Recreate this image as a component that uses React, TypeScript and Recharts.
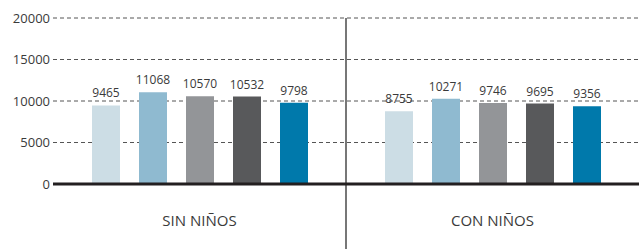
import { BarChart, Bar, XAxis, YAxis, CartesianGrid, LabelList, ReferenceLine } from "recharts";

const CHART_W = 639;
const CHART_H = 249;

const categories = ["SIN NIÑOS", "CON NIÑOS"];
const serie1 = [9465, 8755];
const serie2 = [11068, 10271];
const serie3 = [10570, 9746];
const serie4 = [10532, 9695];
const serie5 = [9798, 9356];
const yTicks = [0, 5000, 10000, 15000, 20000];

const seriesKeys = ["s1", "s2", "s3", "s4", "s5"];
const colors = ["#ccdde5", "#8fbad0", "#939598", "#58595b", "#0079ab"];

const data = categories.map((name, i) => ({
  name,
  s1: serie1[i],
  s2: serie2[i],
  s3: serie3[i],
  s4: serie4[i],
  s5: serie5[i],
}));

// separator between the two groups, from the top of the plot down to the bottom of the picture
const Divider = (props: any) => (
  <line
    x1={props.x1}
    y1={Math.min(props.y1, props.y2)}
    x2={props.x2}
    y2={CHART_H}
    stroke="#4a4a4a"
    strokeWidth={1.5}
  />
);

export default function App() {
  return (
    <div style={{ position: "absolute", left: 0, top: 0, fontFamily: "'Open Sans', sans-serif" }}>
      <BarChart
        width={CHART_W}
        height={CHART_H}
        data={data}
        margin={{ top: 18, right: 0, left: 0, bottom: 0 }}
        barSize={28}
        barGap={19}
      >
        <CartesianGrid vertical={false} stroke="#555" strokeDasharray="4 3" />
        <XAxis
          dataKey="name"
          height={65}
          tickLine={false}
          tickSize={0}
          tickMargin={31}
          axisLine={{ stroke: "#231f20", strokeWidth: 3 }}
          tick={{ fill: "#3a3a3a", fontSize: 15 }}
        />
        <YAxis
          width={53}
          domain={[0, 20000]}
          ticks={yTicks}
          tickLine={false}
          axisLine={false}
          tickSize={0}
          tickMargin={3}
          tick={{ fill: "#3a3a3a", fontSize: 13 }}
        />
        <ReferenceLine x={categories[1]} position="start" shape={Divider} />
        {seriesKeys.map((k, i) => (
          <Bar key={k} dataKey={k} fill={colors[i]} isAnimationActive={false}>
            <LabelList dataKey={k} position="top" offset={8} fill="#3a3a3a" fontSize={12} />
          </Bar>
        ))}
      </BarChart>
    </div>
  );
}
